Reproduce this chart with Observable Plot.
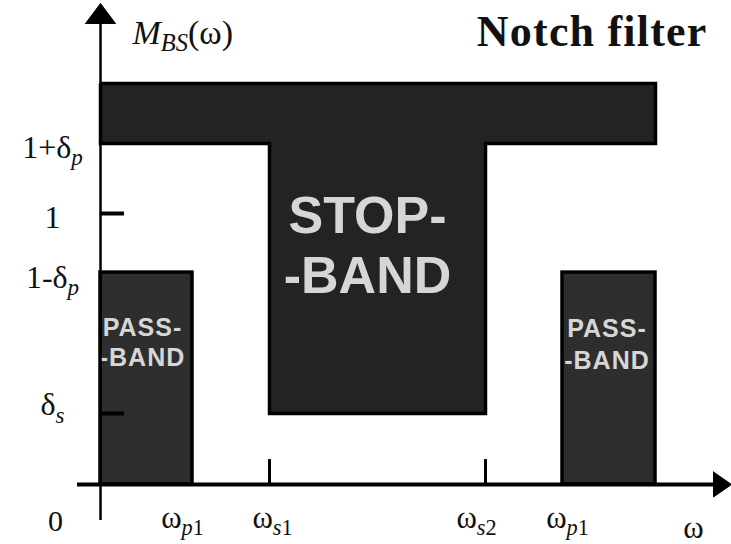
<!DOCTYPE html>
<html>
<head>
<meta charset="utf-8">
<script src="https://cdn.jsdelivr.net/npm/d3@7"></script>
<script src="https://cdn.jsdelivr.net/npm/@observablehq/plot@0.6"></script>
<style>
  html, body { margin: 0; padding: 0; background: #fff; }
  #chart svg { display: block; }
</style>
</head>
<body>
<div id="chart"></div>
<script>
// ---- data (schematic notch-filter specification) ----
const omegaNames  = ["ω_{p1}", "ω_{s1}", "ω_{s2}", "ω_{p1}"];
const omegaValues = [0.92, 1.69, 3.85, 4.62];      // band edges
const omegaLabelAt = [0.82, 1.72, 3.76, 4.67];     // where each edge label sits
const omegaEnd = 5.55;                             // right end of the spec
const magNames  = ["δ_{s}", "1-δ_{p}", "1", "1+δ_{p}"];
const magValues = [0.262, 0.782, 1, 1.258];
const magTop = 1.48;
const magLabelDy = [2, 15, 14, 14];
const bandTexts = ["PASS-\n-BAND", "STOP-\n-BAND", "PASS-\n-BAND"];
const title = "Notch filter";
const yTitle = "*M*_{BS}(ω)";
const xTitle = "ω";

const [wp1, ws1, ws2, wp2] = omegaValues;
const [ds, onemdp, one, onepdp] = magValues;

// scales: x 100px/unit, y 271px/unit
const W = 731, H = 544;
const xDom = [-1, -1 + W / 100];
const yDom = [-(H - 484) / 271, 484 / 271];

const passBands = [
  {x1: 0, x2: wp1, y1: 0, y2: onemdp},
  {x1: wp2, x2: omegaEnd, y1: 0, y2: onemdp}
];
const stopShape = [
  [0, magTop], [omegaEnd, magTop], [omegaEnd, onepdp], [ws2, onepdp],
  [ws2, ds], [ws1, ds], [ws1, onepdp], [0, onepdp], [0, magTop]
];
const bandLabels = [
  {x: (0 + wp1) / 2 - 0.04, y: 0.437, t: bandTexts[0], size: 25, lh: 1.2, ls: 1},
  {x: (ws1 + ws2) / 2 - 0.1, y: 0.705, t: bandTexts[1], size: 52, lh: 1.17, ls: 0.5},
  {x: (wp2 + omegaEnd) / 2 - 0.02, y: 0.425, t: bandTexts[2], size: 25, lh: 1.28, ls: 1}
];

const yAxisTop = 1.701, yAxisTip = 1.775, yAxisBottom = -0.133;
const xAxisLeft = -0.23, xAxisEnd = 6.13, xAxisTip = 6.31;

const serif = "'Liberation Serif', 'Times New Roman', serif";
const sans = "'Liberation Sans', Arial, sans-serif";

const magLabels = magNames.map((t, i) => ({t, y: magValues[i], dy: magLabelDy[i]}));
const omegaLabels = omegaNames.map((t, i) => ({t, x: omegaLabelAt[i]}));

const plot = Plot.plot({
  width: W, height: H,
  marginTop: 0, marginRight: 0, marginBottom: 0, marginLeft: 0,
  x: {domain: xDom, axis: null},
  y: {domain: yDom, axis: null},
  style: {background: "#fff", overflow: "visible"},
  marks: [
    // stop band (T shape)
    Plot.line(stopShape, {x: d => d[0], y: d => d[1], fill: "#232323", stroke: "#000",
      strokeWidth: 3.5, strokeLinejoin: "miter", strokeMiterlimit: 4, strokeLinecap: "butt"}),
    // pass bands
    Plot.rect(passBands, {x1: "x1", x2: "x2", y1: "y1", y2: "y2", fill: "#2e2e2e", stroke: "#000", strokeWidth: 3.5}),
    // band labels
    ...bandLabels.map(b => Plot.text([b], {x: "x", y: "y", text: "t", fill: "#d6d6d6",
      fontFamily: sans, fontWeight: "bold", fontSize: b.size, lineAnchor: "bottom", lineHeight: b.lh})),
    // axes
    Plot.ruleX([0], {y1: yAxisBottom, y2: yAxisTop, stroke: "#000", strokeWidth: 2.5}),
    Plot.ruleY([0], {x1: xAxisLeft, x2: xAxisEnd, stroke: "#000", strokeWidth: 4}),
    Plot.line([[-0.15, yAxisTop], [0, yAxisTip], [0.15, yAxisTop], [-0.15, yAxisTop]],
      {x: d => d[0], y: d => d[1], fill: "#000", stroke: "#000", strokeWidth: 1}),
    Plot.line([[xAxisEnd, 0.046], [xAxisTip, 0], [xAxisEnd, -0.046], [xAxisEnd, 0.046]],
      {x: d => d[0], y: d => d[1], fill: "#000", stroke: "#000", strokeWidth: 1}),
    // ticks
    Plot.ruleY([one, ds], {x1: 0, x2: 0.24, stroke: "#000", strokeWidth: 4}),
    Plot.ruleX([ws1, ws2], {y1: 0, y2: 0.092, stroke: "#000", strokeWidth: 3}),
    // tick labels
    ...magLabels.map(d => Plot.text([d], {x: -0.48, y: "y", text: "t", dy: d.dy, lineAnchor: "bottom",
      fontFamily: serif, fontSize: 32, fill: "#111"})),
    Plot.text(["0"], {x: -0.45, y: -0.171, text: d => d, lineAnchor: "bottom", fontFamily: serif, fontSize: 30, fill: "#111"}),
    Plot.text(omegaLabels, {x: "x", y: -0.160, text: "t", lineAnchor: "bottom", fontFamily: serif, fontSize: 31, fill: "#111"}),
    Plot.text([xTitle], {x: 5.93, y: -0.196, text: d => d, lineAnchor: "bottom", fontFamily: serif, fontSize: 31, fill: "#111"}),
    Plot.text([yTitle], {x: 0.32, y: (484 - 43) / 271, text: d => d, textAnchor: "start", lineAnchor: "bottom", fontFamily: serif, fontSize: 34, fill: "#111"}),
    Plot.text([title], {x: 6.07, y: (484 - 45) / 271, text: d => d, textAnchor: "end", lineAnchor: "bottom", fontFamily: serif, fontWeight: "bold", fontSize: 44, fill: "#111"})
  ]
});

// letter spacing for band labels and title
d3.select(plot).selectAll("text").each(function () {
  const s = this.textContent;
  if (s === title) d3.select(this).attr("letter-spacing", "1.2px");
  if (/PASS/.test(s)) d3.select(this).attr("letter-spacing", "1px");
});

// rich text: "_{...}" subscript (letters italic), "*...*" italic
d3.select(plot).selectAll("text").each(function () {
  const s = this.textContent;
  if (!/_\{|\*/.test(s)) return;
  const el = d3.select(this);
  el.text(null);
  const re = /_\{([^}]*)\}|\*([^*]*)\*|([^_*]+)/g;
  let m, pending = 0;
  while ((m = re.exec(s))) {
    if (m[1] !== undefined) {
      const shift = 0.22; // in parent em
      const parts = m[1].match(/[A-Za-z]+|[^A-Za-z]+/g);
      parts.forEach((p, k) => {
        const t = el.append("tspan").attr("font-size", "72%").text(p);
        if (k === 0) t.attr("dy", (shift / 0.72).toFixed(3) + "em");
        if (/[A-Za-z]/.test(p)) t.attr("font-style", "italic");
      });
      pending = shift;
    } else {
      const txt = m[2] !== undefined ? m[2] : m[3];
      const t = el.append("tspan").text(txt);
      if (m[2] !== undefined) t.attr("font-style", "italic");
      if (pending) { t.attr("dy", (-pending).toFixed(3) + "em"); pending = 0; }
    }
  }
});

document.getElementById("chart").appendChild(plot);
</script>
</body>
</html>
